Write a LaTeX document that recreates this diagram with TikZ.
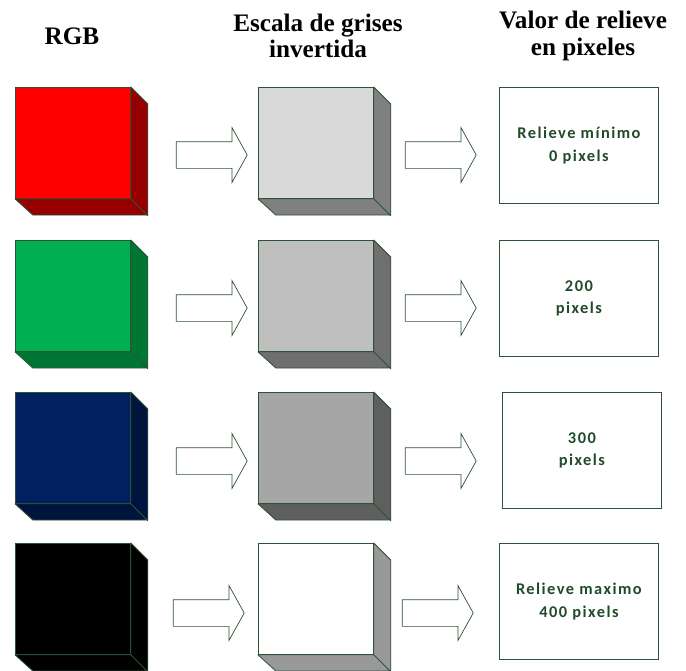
\documentclass[tikz,border=0pt]{standalone}
\usepackage{fontspec}
\setmainfont{Liberation Serif}
\newfontfamily\labelfont[LetterSpace=9]{Carlito}
\definecolor{outline}{RGB}{45,82,52}
\definecolor{textgreen}{RGB}{33,74,42}
\definecolor{redfront}{RGB}{255,0,0}
\definecolor{redside}{RGB}{150,0,0}
\definecolor{greenfront}{RGB}{0,176,80}
\definecolor{greenside}{RGB}{0,118,52}
\definecolor{bluefront}{RGB}{0,32,96}
\definecolor{blueside}{RGB}{0,21,62}
\definecolor{greyA}{RGB}{217,217,217}
\definecolor{greyAside}{RGB}{128,128,128}
\definecolor{greyB}{RGB}{191,191,191}
\definecolor{greyBside}{RGB}{111,111,111}
\definecolor{greyC}{RGB}{166,166,166}
\definecolor{greyCside}{RGB}{95,95,95}
\definecolor{greyDside}{RGB}{153,153,153}
\usepackage{tikz}
\usetikzlibrary{shapes.arrows}

\tikzset{
    face/.style={draw=outline, line width=0.7pt, anchor=north west, inner sep=0,
        minimum width=3.45cm, minimum height=3.33cm},
    side/.style={draw=outline, line width=0.7pt, line join=round},
    flecha/.style={single arrow, draw=outline, line width=0.6pt, fill=white,
        inner xsep=0, inner ysep=0.39cm, minimum height=2.13cm,
        single arrow head extend=0.42cm, single arrow tip angle=122},
    valor/.style={draw=outline, line width=0.7pt, anchor=north west, align=center,
        minimum width=4.77cm, minimum height=3.48cm, text=textgreen,
        font=\labelfont\bfseries\fontsize{14}{19.5}\selectfont},
    titulo/.style={align=center, font=\bfseries\fontsize{21.5}{22.5}\selectfont}
}

\begin{document}
\begin{tikzpicture}[x=0.03cm, y=-0.03cm]
    \useasboundingbox (0,0) rectangle (686,671);

    % Headers
    \node[titulo] (hrgb) at (72,36) {RGB};
    \node[titulo] (hgris) at (318,36) {Escala de grises\\invertida};
    \node[titulo] (hvalor) at (583,36) {Valor de relieve\\en pixeles};

    % Row 1
    \node[face, fill=redfront] (rgb1) at (15,87) {};
    \filldraw[side, fill=redside] (rgb1.north east) -- ++(17,17) -- ++(0,111) -- ++(-115,0) -- (rgb1.south west) -- (rgb1.south east) -- cycle (rgb1.south east) -- ++(17,17);
    \node[flecha] (fa1) at (208,155) {};
    \node[face, fill=greyA] (gris1) at (258,87) {};
    \filldraw[side, fill=greyAside] (gris1.north east) -- ++(17,17) -- ++(0,111) -- ++(-115,0) -- (gris1.south west) -- (gris1.south east) -- cycle (gris1.south east) -- ++(17,17);
    \node[flecha] (fb1) at (437,155) {};
    \node[valor] (val1) at (499,87) {Relieve mínimo\\0 pixels};

    % Row 2
    \node[face, fill=greenfront] (rgb2) at (15,240) {};
    \filldraw[side, fill=greenside] (rgb2.north east) -- ++(17,17) -- ++(0,111) -- ++(-115,0) -- (rgb2.south west) -- (rgb2.south east) -- cycle (rgb2.south east) -- ++(17,17);
    \node[flecha] (fa2) at (208,308) {};
    \node[face, fill=greyB] (gris2) at (258,240) {};
    \filldraw[side, fill=greyBside] (gris2.north east) -- ++(17,17) -- ++(0,111) -- ++(-115,0) -- (gris2.south west) -- (gris2.south east) -- cycle (gris2.south east) -- ++(17,17);
    \node[flecha] (fb2) at (437,308) {};
    \node[valor] (val2) at (499,240) {200\\pixels};

    % Row 3
    \node[face, fill=bluefront] (rgb3) at (15,392) {};
    \filldraw[side, fill=blueside] (rgb3.north east) -- ++(17,17) -- ++(0,111) -- ++(-115,0) -- (rgb3.south west) -- (rgb3.south east) -- cycle (rgb3.south east) -- ++(17,17);
    \node[flecha] (fa3) at (208,461) {};
    \node[face, fill=greyC] (gris3) at (258,392) {};
    \filldraw[side, fill=greyCside] (gris3.north east) -- ++(17,17) -- ++(0,111) -- ++(-115,0) -- (gris3.south west) -- (gris3.south east) -- cycle (gris3.south east) -- ++(17,17);
    \node[flecha] (fb3) at (437,461) {};
    \node[valor] (val3) at (502,392) {300\\pixels};

    % Row 4
    \node[face, fill=black] (rgb4) at (15,543) {};
    \filldraw[side, fill=black] (rgb4.north east) -- ++(17,17) -- ++(0,111) -- ++(-115,0) -- (rgb4.south west) -- (rgb4.south east) -- cycle (rgb4.south east) -- ++(17,17);
    \node[flecha] (fa4) at (205,613) {};
    \node[face, fill=white] (gris4) at (258,543) {};
    \filldraw[side, fill=greyDside] (gris4.north east) -- ++(17,17) -- ++(0,111) -- ++(-115,0) -- (gris4.south west) -- (gris4.south east) -- cycle (gris4.south east) -- ++(17,17);
    \node[flecha] (fb4) at (434,613) {};
    \node[valor] (val4) at (499,543) {Relieve maximo\\400 pixels};
\end{tikzpicture}
\end{document}
